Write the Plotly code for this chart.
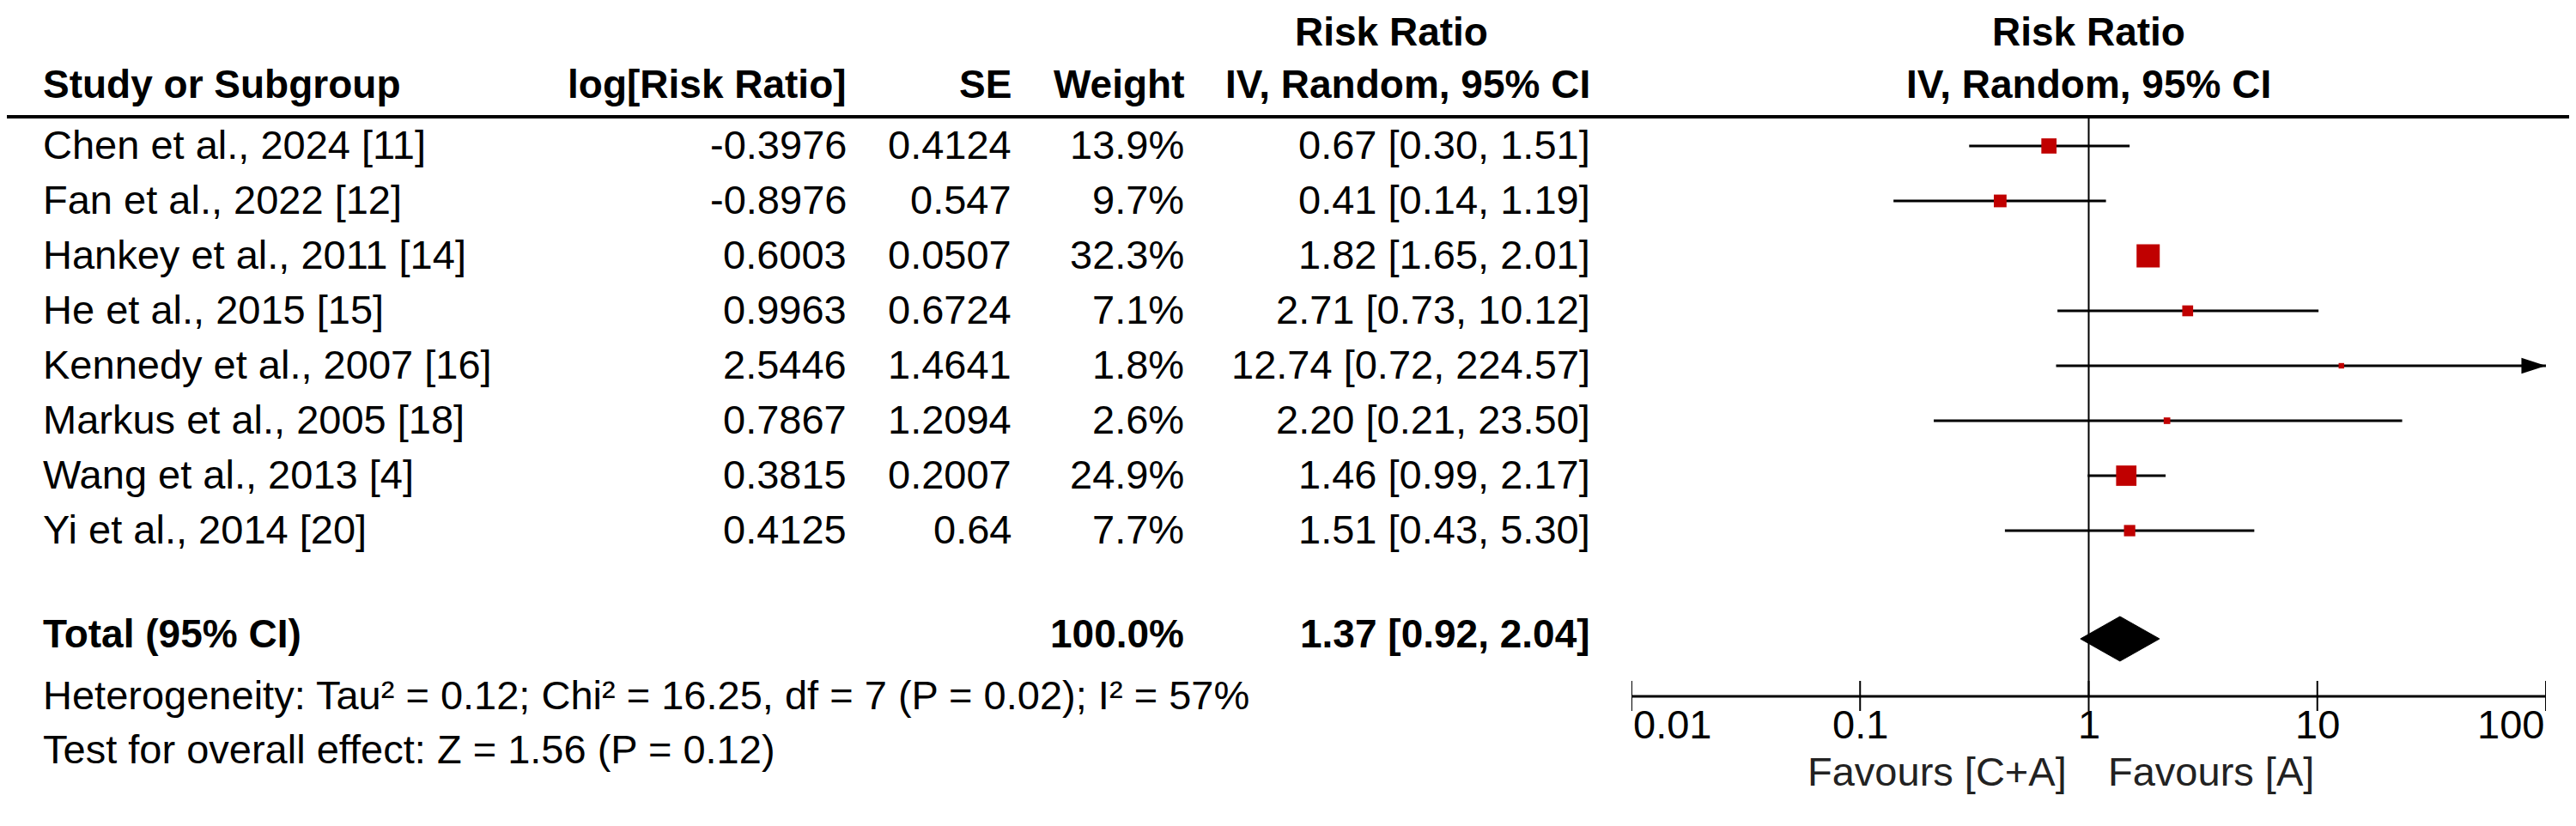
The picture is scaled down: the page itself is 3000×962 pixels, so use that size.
import numpy as np
import plotly.graph_objects as go

# ---------------- data ----------------
studies = ["Chen et al., 2024 [11]", "Fan et al., 2022 [12]", "Hankey et al., 2011 [14]",
           "He et al., 2015 [15]", "Kennedy et al., 2007 [16]", "Markus et al., 2005 [18]",
           "Wang et al., 2013 [4]", "Yi et al., 2014 [20]"]
log_rr = [-0.3976, -0.8976, 0.6003, 0.9963, 2.5446, 0.7867, 0.3815, 0.4125]
se = [0.4124, 0.547, 0.0507, 0.6724, 1.4641, 1.2094, 0.2007, 0.64]
weight = [13.9, 9.7, 32.3, 7.1, 1.8, 2.6, 24.9, 7.7]
rr = [0.67, 0.41, 1.82, 2.71, 12.74, 2.20, 1.46, 1.51]
ci_low = [0.30, 0.14, 1.65, 0.73, 0.72, 0.21, 0.99, 0.43]
ci_high = [1.51, 1.19, 2.01, 10.12, 224.57, 23.50, 2.17, 5.30]

total_label = "Total (95% CI)"
total_weight = 100.0
total_rr = 1.37
total_low = 0.92
total_high = 2.04
heterogeneity = "Heterogeneity: Tau² = 0.12; Chi² = 16.25, df = 7 (P = 0.02); I² = 57%"
overall_effect = "Test for overall effect: Z = 1.56 (P = 0.12)"

tick_values = [0.01, 0.1, 1, 10, 100]
tick_labels = ["0.01", "0.1", "1", "10", "100"]
favours_left = "Favours [C+A]"
favours_right = "Favours [A]"

# ---------------- geometry / style ----------------
W, H = 3000, 962
X_PIX_LO, X_PIX_HI = 1892, 2957
ROW0, ROW_STEP = 162, 64
TOTAL_Y = 736
AXIS_Y = 803
HEADER_LINE_Y = 128
TEXT_DY = -2
FONT = "Liberation Sans, Arial, sans-serif"
REG = 47
BOLD = 46
RED = "rgb(192,0,0)"
xmin, xmax = tick_values[0], tick_values[-1]

row_y = [ROW0 + i * ROW_STEP for i in range(len(studies))]

fig = go.Figure()

# CI lines (clipped at axis max)
cx, cy = [], []
for lo, hi, y in zip(ci_low, ci_high, row_y):
    cx += [max(lo, xmin), min(hi, xmax), None]
    cy += [y, y, None]
fig.add_trace(go.Scatter(x=cx, y=cy, mode="lines", line=dict(color="black", width=3),
                         hoverinfo="skip", cliponaxis=False))

# arrows for CIs beyond axis
ax_x = [xmax for hi in ci_high if hi > xmax]
ax_y = [y for hi, y in zip(ci_high, row_y) if hi > xmax]
fig.add_trace(go.Scatter(x=ax_x, y=ax_y, mode="markers",
                         marker=dict(symbol="arrow", angle=90, size=30, color="black",
                                     opacity=1, line=dict(width=0)),
                         hoverinfo="skip", cliponaxis=False))

# weight squares
fig.add_trace(go.Scatter(x=rr, y=row_y, mode="markers", opacity=1,
                         marker=dict(symbol="square", size=[4.75 * np.sqrt(w) for w in weight],
                                     color=RED, opacity=1, line=dict(width=0)),
                         hoverinfo="skip", cliponaxis=False))

# vertical line of no effect
fig.add_trace(go.Scatter(x=[1, 1], y=[HEADER_LINE_Y, AXIS_Y], mode="lines",
                         line=dict(color="black", width=2), hoverinfo="skip"))

# diamond
fig.add_trace(go.Scatter(x=[total_low, total_rr, total_high, total_rr, total_low],
                         y=[TOTAL_Y, TOTAL_Y - 26, TOTAL_Y, TOTAL_Y + 26, TOTAL_Y],
                         mode="lines", fill="toself", fillcolor="black",
                         line=dict(color="black", width=1), hoverinfo="skip"))

# custom axis
fig.add_trace(go.Scatter(x=[xmin, xmax], y=[AXIS_Y, AXIS_Y], mode="lines",
                         line=dict(color="black", width=3), hoverinfo="skip", cliponaxis=False))
tx, ty = [], []
for t in tick_values:
    tx += [t, t, None]
    ty += [AXIS_Y - 18, AXIS_Y + 17, None]
fig.add_trace(go.Scatter(x=tx, y=ty, mode="lines", line=dict(color="black", width=2),
                         hoverinfo="skip", cliponaxis=False))

ann = []


def txt(x, y, s, anchor, bold=False, xref="paper"):
    ann.append(dict(x=x / W if xref == "paper" else x, y=y, xref=xref, yref="y", text=s,
                    showarrow=False, xanchor=anchor, yanchor="middle",
                    font=dict(family=FONT, size=BOLD if bold else REG, color="black")))


# headers
LEFT = 40
C_LOG, C_SE, C_W, C_CI = 980, 1172, 1373, 1846
txt(1612, 29, "<b>Risk Ratio</b>", "center", True)
txt(2424, 29, "<b>Risk Ratio</b>", "center", True)
txt(LEFT, 90, "<b>Study or Subgroup</b>", "left", True)
txt(C_LOG, 90, "<b>log[Risk Ratio]</b>", "right", True)
txt(C_SE, 90, "<b>SE</b>", "right", True)
txt(C_W, 90, "<b>Weight</b>", "right", True)
txt(C_CI, 90, "<b>IV, Random, 95% CI</b>", "right", True)
txt(2424, 90, "<b>IV, Random, 95% CI</b>", "center", True)

# rows
for i, y in enumerate(row_y):
    yy = y + TEXT_DY
    txt(LEFT, yy, studies[i], "left")
    txt(C_LOG, yy, str(log_rr[i]), "right")
    txt(C_SE, yy, str(se[i]), "right")
    txt(C_W, yy, f"{weight[i]:.1f}%", "right")
    txt(C_CI, yy, f"{rr[i]:.2f} [{ci_low[i]:.2f}, {ci_high[i]:.2f}]", "right")

# total
txt(LEFT, TOTAL_Y - 6, f"<b>{total_label}</b>", "left", True)
txt(C_W, TOTAL_Y - 6, f"<b>{total_weight:.1f}%</b>", "right", True)
txt(C_CI, TOTAL_Y - 6, f"<b>{total_rr:.2f} [{total_low:.2f}, {total_high:.2f}]</b>", "right", True)
txt(LEFT, 801, heterogeneity, "left")
txt(LEFT, 864, overall_effect, "left")

# tick labels
for k, (t, lab) in enumerate(zip(tick_values, tick_labels)):
    anchor = "left" if k == 0 else ("right" if k == len(tick_values) - 1 else "center")
    ann.append(dict(x=np.log10(t), y=835, xref="x", yref="y", text=lab, showarrow=False,
                    xanchor=anchor, yanchor="middle",
                    font=dict(family=FONT, size=REG, color="black")))

ann.append(dict(x=0, y=890, xref="x", yref="y", text=favours_left, showarrow=False,
                xanchor="right", yanchor="middle", xshift=-24,
                font=dict(family=FONT, size=REG, color="#222")))
ann.append(dict(x=0, y=890, xref="x", yref="y", text=favours_right, showarrow=False,
                xanchor="left", yanchor="middle", xshift=20,
                font=dict(family=FONT, size=REG, color="#222")))

fig.update_layout(
    width=W, height=H, margin=dict(l=0, r=0, t=0, b=0),
    paper_bgcolor="white", plot_bgcolor="white", showlegend=False,
    xaxis=dict(type="log", range=[np.log10(xmin), np.log10(xmax)],
               domain=[X_PIX_LO / W, X_PIX_HI / W], visible=False, fixedrange=True),
    yaxis=dict(range=[H, 0], domain=[0, 1], visible=False, fixedrange=True),
    annotations=ann,
    shapes=[dict(type="line", xref="paper", yref="y", x0=0, x1=1,
                 y0=HEADER_LINE_Y, y1=HEADER_LINE_Y, line=dict(color="black", width=4))],
)

fig.write_html("out.html")
